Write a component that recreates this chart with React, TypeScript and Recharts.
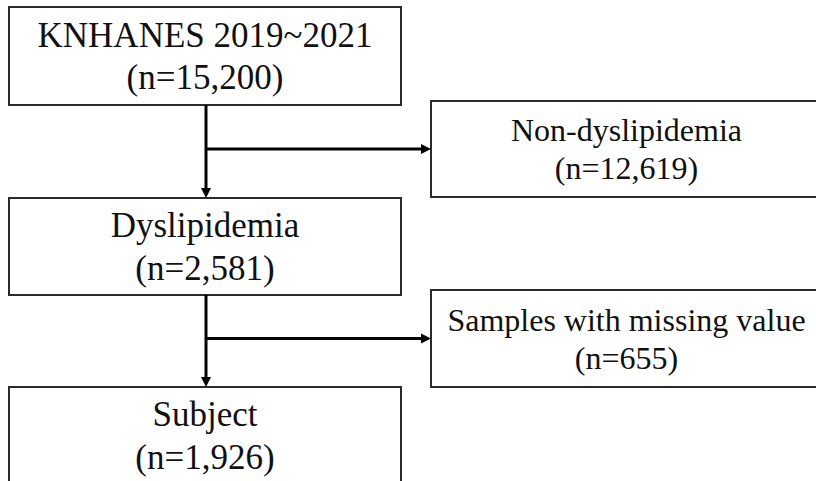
import { ComposedChart, XAxis, YAxis, ReferenceArea, ReferenceLine, ReferenceDot } from "recharts";

// flow stages (left column) and excluded groups (right column)
const stageLabels = ["KNHANES 2019~2021", "Dyslipidemia", "Subject"];
const stageCounts = [15200, 2581, 1926];
const excludedLabels = ["Non-dyslipidemia", "Samples with missing value"];
const excludedCounts = [12619, 655];

// layout, in chart units (1 unit = 1px)
const W = 816;
const H = 481;
const LEFT_X = [9, 401];
const LEFT_ROWS = [
  [7, 105],
  [198, 295],
  [387, 500],
];
const RIGHT_X = [431, 822];
const RIGHT_ROWS = [
  [101, 197],
  [290, 387],
];
const TRUNK_X = 206;
const HEAD = 10;

const FONT = '"Liberation Serif", "Times New Roman", serif';
const BORDER = "#2b2b2b";

const fmt = (n: number) => `(n=${n.toLocaleString("en-US")})`;

function ArrowHead({ cx, cy, dir }: { cx: number; cy: number; dir: "down" | "right" }) {
  const h = HEAD;
  const pts =
    dir === "down"
      ? `${cx - 5},${cy - h} ${cx + 5},${cy - h} ${cx},${cy}`
      : `${cx - h},${cy - 5} ${cx - h},${cy + 5} ${cx},${cy}`;
  return <polygon points={pts} fill="#000" />;
}

function BoxText({
  cx,
  cy,
  label,
  count,
  size,
  up,
  down,
}: {
  cx: number;
  cy: number;
  label: string;
  count: number;
  size: number;
  up: number;
  down: number;
}) {
  return (
    <g fontFamily={FONT} fontSize={size} fill="#111" textAnchor="middle">
      <text x={cx} y={cy - up}>
        {label}
      </text>
      <text x={cx} y={cy + down}>
        {fmt(count)}
      </text>
    </g>
  );
}

export default function App() {
  const leftCx = (LEFT_X[0] + LEFT_X[1]) / 2;
  const rightCx = 626.5;

  return (
    <div style={{ position: "fixed", left: 0, top: 0, width: W, height: H, background: "#fff" }}>
      <ComposedChart width={W} height={H} data={[]} margin={{ top: 0, right: 0, bottom: 0, left: 0 }}>
        <XAxis type="number" dataKey="x" domain={[0, W]} hide allowDataOverflow />
        <YAxis type="number" dataKey="y" domain={[0, H]} reversed hide allowDataOverflow />

        {/* connectors */}
        {LEFT_ROWS.slice(0, 2).map((row, i) => (
          <ReferenceLine
            key={`trunk-${i}`}
            segment={[
              { x: TRUNK_X, y: row[1] },
              { x: TRUNK_X, y: LEFT_ROWS[i + 1][0] - HEAD + 1 },
            ]}
            stroke="#000"
            strokeWidth={3}
            ifOverflow="visible"
          />
        ))}
        {RIGHT_ROWS.map((row, i) => {
          const y = (row[0] + row[1]) / 2;
          return (
            <ReferenceLine
              key={`branch-${i}`}
              segment={[
                { x: TRUNK_X, y },
                { x: RIGHT_X[0] - HEAD + 1, y },
              ]}
              stroke="#000"
              strokeWidth={3}
              ifOverflow="visible"
            />
          );
        })}

        {/* boxes */}
        {LEFT_ROWS.map((row, i) => (
          <ReferenceArea
            key={`lbox-${i}`}
            x1={LEFT_X[0]}
            x2={LEFT_X[1]}
            y1={row[0]}
            y2={row[1]}
            fill="#fff"
            fillOpacity={1}
            stroke={BORDER}
            strokeWidth={2}
            ifOverflow="hidden"
          />
        ))}
        {RIGHT_ROWS.map((row, i) => (
          <ReferenceArea
            key={`rbox-${i}`}
            x1={RIGHT_X[0]}
            x2={RIGHT_X[1]}
            y1={row[0]}
            y2={row[1]}
            fill="#fff"
            fillOpacity={1}
            stroke={BORDER}
            strokeWidth={2}
            ifOverflow="hidden"
          />
        ))}

        {/* arrow heads */}
        {LEFT_ROWS.slice(1).map((row, i) => (
          <ReferenceDot
            key={`hd-${i}`}
            x={TRUNK_X}
            y={row[0]}
            r={0}
            ifOverflow="visible"
            shape={(p: any) => <ArrowHead cx={p.cx} cy={p.cy} dir="down" />}
          />
        ))}
        {RIGHT_ROWS.map((row, i) => (
          <ReferenceDot
            key={`hr-${i}`}
            x={RIGHT_X[0]}
            y={(row[0] + row[1]) / 2}
            r={0}
            ifOverflow="visible"
            shape={(p: any) => <ArrowHead cx={p.cx} cy={p.cy} dir="right" />}
          />
        ))}

        {/* box texts */}
        {stageLabels.map((label, i) => {
          const row = LEFT_ROWS[i];
          const cy = i === 2 ? row[0] + 48.5 : (row[0] + row[1]) / 2;
          return (
            <ReferenceDot
              key={`lt-${i}`}
              x={leftCx}
              y={cy}
              r={0}
              ifOverflow="visible"
              shape={(p: any) => (
                <BoxText cx={p.cx} cy={p.cy} label={label} count={stageCounts[i]} size={35} up={9.5} down={33} />
              )}
            />
          );
        })}
        {excludedLabels.map((label, i) => {
          const row = RIGHT_ROWS[i];
          return (
            <ReferenceDot
              key={`rt-${i}`}
              x={rightCx}
              y={(row[0] + row[1]) / 2}
              r={0}
              ifOverflow="visible"
              shape={(p: any) => (
                <BoxText cx={p.cx} cy={p.cy} label={label} count={excludedCounts[i]} size={32} up={8} down={30} />
              )}
            />
          );
        })}
      </ComposedChart>
    </div>
  );
}
